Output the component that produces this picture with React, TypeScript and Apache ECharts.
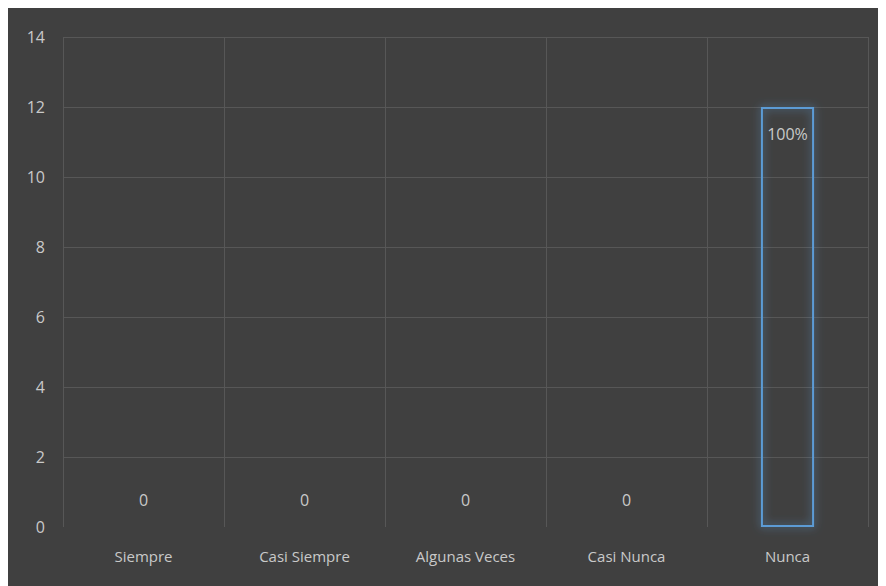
import React, { useEffect, useRef } from "react";
import * as echarts from "echarts";

const categories = ["Siempre", "Casi Siempre", "Algunas Veces", "Casi Nunca", "Nunca"];
const values = [0, 0, 0, 0, 12];
const barLabels = ["0", "0", "0", "0", "100%"];
const yTicks = { min: 0, max: 14, interval: 2 };

export default function App() {
  const ref = useRef<HTMLDivElement>(null);
  useEffect(() => {
    const chart = echarts.init(ref.current!, null, { renderer: "svg" });
    const textColor = "#c9c9c9";
    const font = "'Open Sans', 'Liberation Sans', sans-serif";
    const grid = "#575757";
    chart.setOption({
      animation: false,
      backgroundColor: "#404040",
      grid: { left: 55, right: 18, top: 29, bottom: 59, containLabel: false },
      xAxis: {
        type: "category",
        data: categories,
        axisLine: { show: false },
        axisTick: { show: false },
        axisLabel: { color: textColor, fontSize: 15, fontFamily: font, margin: 21 },
        splitLine: { show: true, lineStyle: { color: grid, width: 1 } },
      },
      yAxis: {
        type: "value",
        min: yTicks.min,
        max: yTicks.max,
        interval: yTicks.interval,
        axisLine: { show: false },
        axisTick: { show: false },
        axisLabel: { color: textColor, fontSize: 16, fontFamily: font, margin: 18 },
        splitLine: {
          show: true,
          lineStyle: { color: ["transparent", grid, grid, grid, grid, grid, grid, grid], width: 1 },
        },
      },
      series: [
        {
          type: "bar",
          barWidth: "33%",
          data: values.map((v, i) => ({
            value: v,
            itemStyle:
              v === 0
                ? { color: "transparent", borderWidth: 0 }
                : {
                    color: "transparent",
                    borderColor: "#5B9BD5",
                    borderWidth: 2,
                    shadowBlur: 8,
                    shadowColor: "rgba(91,155,213,0.8)",
                  },
            label: {
              show: true,
              position: v === 0 ? "top" : "insideTop",
              distance: v === 0 ? 19 : 19,
              formatter: barLabels[i],
              color: textColor,
              fontSize: 16,
              fontFamily: font,
            },
          })),
        },
      ],
    });
    return () => chart.dispose();
  }, []);
  return <div ref={ref} style={{ width: 878, height: 578 }} />;
}
